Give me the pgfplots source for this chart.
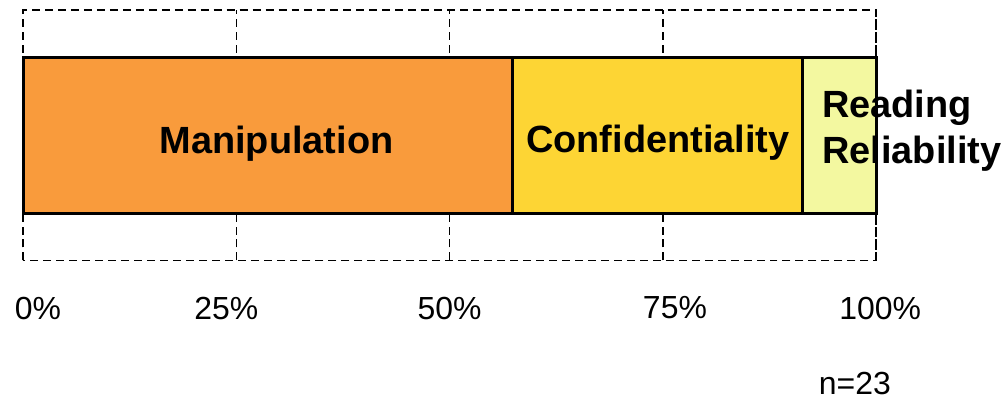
\documentclass[border=0pt]{standalone}
\usepackage{pgfplots}
\pgfplotsset{compat=1.18}
\usepackage{fontspec}
\setmainfont{Liberation Sans}

\definecolor{manip}{RGB}{249,155,60}
\definecolor{confid}{RGB}{253,213,52}
\definecolor{readrel}{RGB}{243,248,160}

\tikzset{bar label/.style={font=\fontsize{19}{23}\selectfont\bfseries, inner sep=0pt}}

\begin{document}
\begin{tikzpicture}
\begin{axis}[
  scale only axis,
  width=427.5pt, height=125.5pt,
  xmin=0, xmax=100, ymin=0, ymax=1,
  enlargelimits=false,
  clip=false,
  xbar stacked,
  bar width=78pt,
  axis line style={black, dash pattern=on 4pt off 2.5pt, line width=0.8pt},
  xmajorgrids,
  grid style={black, dash pattern=on 4pt off 2.5pt, line width=0.8pt},
  xtick={0,25,50,75,100},
  xticklabels={\kern7.5pt 0\%\kern-7.5pt, \kern-5pt 25\%\kern5pt, 50\%, \kern6pt 75\%\kern-6pt, \kern2pt 100\%\kern-2pt},
  ytick=\empty,
  major tick length=0pt,
  xticklabel style={font=\fontsize{16}{18}\selectfont, inner sep=0pt, anchor=north, yshift=-18pt},
]
% shares of the answers (n=23), in percent
\addplot[fill=manip, draw=black, line width=1.5pt] coordinates {(57.4,0.5)};
\addplot[fill=confid, draw=black, line width=1.5pt] coordinates {(34.0,0.5)};
\addplot[fill=readrel, draw=black, line width=1.5pt] coordinates {(8.6,0.5)};

% anchor points for the segment names, written after the bars
\coordinate (mid manip) at (axis cs:28.7,0.5);
\coordinate (mid conf) at (axis cs:74.4,0.5);
\coordinate (start read) at (axis cs:91.4,0.5);
\coordinate (n pos) at (axis cs:97.5,0);

% page margins around the plot
\path ([shift={(-10.5pt,-70pt)}]rel axis cs:0,0) rectangle ([shift={(65.5pt,5pt)}]rel axis cs:1,1);
\end{axis}

\node[bar label, anchor=base] at ([xshift=4.3pt, yshift=-9pt]mid manip) {Manipulation};
\node[bar label, anchor=base] at ([yshift=-8.5pt]mid conf) {Confidentiality};
\node[bar label, anchor=base west] at ([xshift=9.5pt, yshift=9pt]start read) {Reading};
\node[bar label, anchor=base west] at ([xshift=9.5pt, yshift=-14pt]start read) {Reliability};
\node[font=\fontsize{16}{18}\selectfont, inner sep=0pt] at ([yshift=-61.5pt]n pos) {n=23};
\end{tikzpicture}
\end{document}
